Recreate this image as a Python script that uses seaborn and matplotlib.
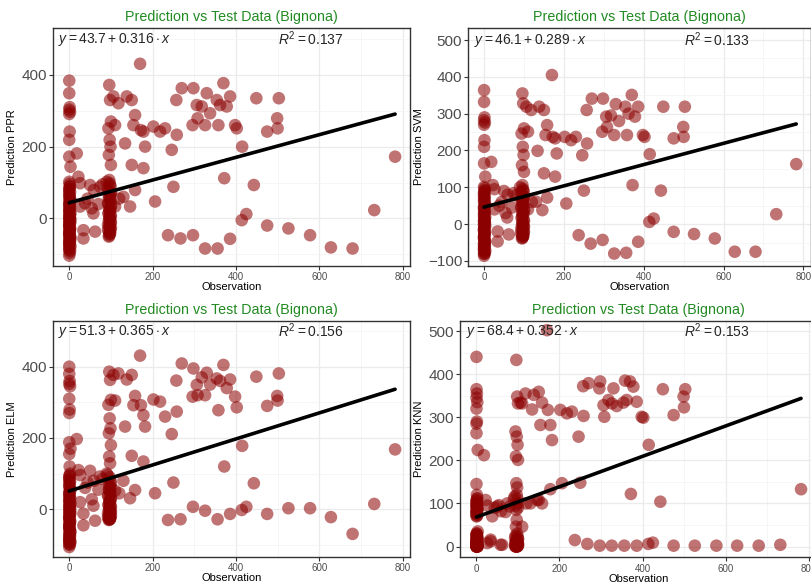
import matplotlib
matplotlib.use("Agg")
import matplotlib.pyplot as plt
from matplotlib.ticker import MultipleLocator
import numpy as np
import pandas as pd
import seaborn as sns

# ---------------- data ----------------
# observations: cluster at 0, cluster near 100, low-x scatter, high-x scatter
obs_zero = [0, 0, 1, 0, 2, 0, 1, 0, 0, 3, 0, 1, 2, 0, 0, 1, 0, 2, 0, 1, 0, 0, 3, 1,
            0, 2, 0, 1, 0, 0, 2, 1, 0, 0, 1, 3, 0, 2, 0, 1, 0, 0, 2, 1, 0]
obs_zero_dense = [1, 0, 2, 0, 1, 3, 0, 0, 2, 1, 0, 1, 0, 2, 0, 3, 1, 0, 0, 2,
                  1, 0, 0, 1, 2, 0, 1, 0, 3, 0]
obs_hundred = [96, 98, 100, 94, 97, 99, 95, 100, 96, 98, 92, 100, 97, 95, 99, 93,
               100, 96, 98, 94, 100, 97, 95, 99, 96, 100, 93, 98, 97, 95]
obs_hundred_dense = [97, 99, 95, 100, 96, 98, 94, 100, 97, 95, 99, 96, 98, 100, 93,
                     97, 99, 95, 98, 96]
obs_low = [18, 22, 26, 50, 59, 74, 90, 38, 54, 58, 34, 34, 62, 26, 44, 70, 80, 110, 120]
obs_high = [237, 267, 297, 326, 356, 386, 414, 425, 475, 526, 578, 628, 680, 732, 782,
            443, 372, 415, 250, 206, 170,
            246, 258, 257, 270, 298, 296, 306, 308, 318, 326, 330, 338, 354, 358, 362,
            370, 378, 386, 398, 402, 449, 475, 499, 500, 503, 202, 218, 230,
            134, 138, 150, 118, 110, 106, 158, 154, 172, 178, 182, 178, 150, 158, 146, 130]

ppr_zero = [384, 349, 310, 303, 297, 291, 242, 219, 172, 144, 102, 96, 90, 82, 71, 63,
            55, 47, 40, 33, 27, 20, 14, 9, 4, -1, -6, -11, -16, -21, -27, -32, -37, -43,
            -48, -53, -58, -63, -69, -74, -79, -85, -91, -97, -104]
svm_zero = [364, 332, 290, 282, 276, 270, 228, 210, 165, 129, 101, 97, 92, 85, 76, 68,
            60, 52, 45, 38, 31, 25, 19, 13, 8, 3, -2, -7, -12, -17, -22, -27, -32, -37,
            -42, -47, -52, -57, -61, -65, -69, -73, -77, -81, -86]
elm_zero = [400, 380, 360, 352, 345, 310, 280, 270, 188, 170, 155, 120, 100, 92, 83, 74,
            64, 55, 47, 39, 31, 24, 17, 10, 4, -2, -8, -14, -20, -26, -32, -38, -44, -50,
            -56, -62, -68, -74, -80, -84, -88, -92, -96, -100, -106]
knn_zero = [440, 365, 355, 345, 335, 320, 290, 285, 263, 224, 145, 120, 112, 106, 100, 96,
            92, 88, 84, 80, 75, 70, 35, 30, 26, 22, 19, 16, 13, 11, 9, 7, 6, 5, 4, 3, 3,
            2, 2, 1, 1, 0, 0, 0, 0]

ppr_zero_dense = [88, 80, 74, 66, 58, 51, 44, 37, 30, 24, 17, 11, 5, 0, -4, -9, -15, -20,
                  -25, -31, -36, -41, -46, -52, -57, -62, -67, -72, -78, -88]
svm_zero_dense = [90, 82, 75, 68, 61, 54, 47, 41, 34, 28, 21, 15, 10, 5, 0, -5, -10, -15,
                  -20, -25, -30, -35, -40, -45, -50, -55, -60, -66, -72, -80]
elm_zero_dense = [95, 86, 78, 70, 62, 54, 46, 39, 32, 25, 19, 13, 7, 1, -5, -11, -17, -23,
                  -29, -35, -41, -47, -53, -59, -65, -71, -77, -83, -90, -97]
knn_zero_dense = [110, 104, 98, 94, 90, 86, 82, 78, 74, 71, 30, 27, 24, 21, 18, 15, 12, 10,
                  8, 6, 5, 4, 3, 2, 2, 1, 1, 0, 0, 0]

ppr_hundred = [372, 330, 270, 251, 219, 200, 177, 149, 107, 93, 84, 72, 66, 57, 49, 41,
               36, 27, 21, 13, 6, 1, -7, -12, -19, -26, -31, -38, -44, -51]
svm_hundred = [355, 328, 260, 246, 210, 188, 160, 142, 106, 92, 86, 75, 68, 60, 52, 44,
               38, 30, 24, 16, 9, 3, -3, -8, -14, -20, -25, -30, -35, -39]
elm_hundred = [386, 363, 307, 293, 255, 227, 213, 180, 148, 129, 96, 73, 64, 55, 46, 38,
               31, 24, 18, 12, 7, 2, -3, -8, -13, -18, -22, -26, -28, -30]
knn_hundred = [433, 348, 332, 267, 255, 236, 209, 201, 147, 137, 116, 100, 62, 46, 23, 20,
               17, 14, 12, 10, 8, 6, 5, 4, 3, 2, 1, 1, 0, 0]

ppr_hundred_dense = [98, 88, 76, 68, 60, 50, 42, 32, 24, 16, 8, 2, -4, -11, -18, -24, -30,
                     -36, -42, -48]
svm_hundred_dense = [96, 88, 78, 70, 62, 54, 46, 36, 28, 20, 12, 5, -1, -7, -13, -19, -24,
                     -29, -33, -37]
elm_hundred_dense = [90, 80, 70, 62, 54, 46, 38, 30, 22, 14, 8, 3, -2, -7, -12, -17, -21,
                     -25, -27, -29]
knn_hundred_dense = [120, 110, 95, 90, 85, 30, 25, 18, 14, 11, 9, 7, 5, 4, 3, 2, 1, 0, 0, 0]

ppr_low = [181, 116, 98, 93, 79, 88, 102, 42, 28, 14, -33, -56, -37, 33, 55, 40, 95, 33, 55]
svm_low = [169, 106, 95, 90, 80, 84, 100, 50, 30, 18, -20, -47, -28, 40, 60, 45, 78, 40, 60]
elm_low = [197, 110, 96, 108, 80, 92, 100, 60, 28, 10, -12, -45, -32, 20, 75, 55, 85, 52, 45]
knn_low = [212, 108, 95, 93, 82, 100, 110, 70, 96, 4, 12, 16, 4, 8, 90, 80, 93, 46, 100]

ppr_high = [-47, -56, -47, -84, -84, -57, -5, 12, -20, -28, -47, -81, -84, 23, 172,
            93, 112, 200, 88, 47, 431,
            191, 233, 330, 363, 363, 260, 316, 279, 312, 260, 349, 293, 330, 260, 316,
            377, 312, 340, 260, 251, 335, 242, 279, 251, 335, 256, 242, 251,
            209, 340, 330, 321, 260, 340, 288, 260, 246, 242, 200, 140, 149, 79, 33, 60]
svm_high = [-30, -53, -43, -80, -78, -48, 6, 15, -21, -27, -39, -75, -75, 27, 163,
            91, 106, 190, 91, 56, 405,
            187, 219, 310, 341, 341, 251, 292, 264, 295, 242, 326, 280, 319, 242, 300,
            351, 292, 319, 242, 237, 319, 233, 264, 237, 319, 237, 228, 237,
            199, 319, 310, 310, 251, 319, 269, 242, 237, 233, 192, 129, 138, 72, 38, 61]
elm_high = [-30, -28, 7, -4, -28, -13, -2, 7, -13, 3, 3, -22, -69, 15, 168,
            73, 120, 178, 75, 45, 431,
            211, 274, 361, 409, 395, 316, 349, 320, 370, 320, 383, 350, 367, 278, 360,
            405, 340, 364, 316, 286, 372, 290, 318, 305, 381, 308, 302, 260,
            232, 364, 377, 381, 305, 377, 318, 292, 292, 264, 232, 134, 150, 54, 31, 80]
knn_high = [15, 6, 2, 2, 2, 2, 6, 9, 2, 2, 2, 2, 2, 4, 133,
            104, 122, 236, 148, 147, 502,
            255, 303, 372, 379, 383, 367, 328, 301, 340, 332, 367, 326, 334, 385, 340,
            383, 371, 336, 301, 299, 365, 305, 348, 323, 365, 317, 309, 313,
            318, 352, 359, 355, 332, 334, 334, 282, 317, 282, 247, 133, 108, 100, 108, 100]

observation = obs_zero + obs_zero_dense + obs_hundred + obs_hundred_dense + obs_low + obs_high
predictions = {
    "PPR": ppr_zero + ppr_zero_dense + ppr_hundred + ppr_hundred_dense + ppr_low + ppr_high,
    "SVM": svm_zero + svm_zero_dense + svm_hundred + svm_hundred_dense + svm_low + svm_high,
    "ELM": elm_zero + elm_zero_dense + elm_hundred + elm_hundred_dense + elm_low + elm_high,
    "KNN": knn_zero + knn_zero_dense + knn_hundred + knn_hundred_dense + knn_low + knn_high,
}
models = ["PPR", "SVM", "ELM", "KNN"]
intercepts = [43.7, 46.1, 51.3, 68.4]
slopes = [0.316, 0.289, 0.365, 0.352]
r_squared = ["0.137", "0.133", "0.156", "0.153"]
title_text = "Prediction vs Test Data (Bignona)"

# ---------------- style ----------------
sns.set_theme(style="white")
plt.rcParams["font.family"] = ["Liberation Sans", "DejaVu Sans"]
plt.rcParams["mathtext.fontset"] = "custom"
plt.rcParams["mathtext.rm"] = "Liberation Sans"
plt.rcParams["mathtext.it"] = "Liberation Sans:italic"
plt.rcParams["mathtext.bf"] = "Liberation Sans:bold"

W, H = 812, 587
fig = plt.figure(figsize=(W / 100, H / 100), dpi=100)
fig.patch.set_facecolor("white")

# pixel boxes: left, right, top, bottom
boxes = [
    (53, 410.5, 28.3, 265.7),
    (468.5, 811, 28.3, 265.7),
    (53, 410.5, 320.7, 556.7),
    (460.3, 816.4, 320.7, 557.3),
]
ylims = [(-132, 530), (-113, 532), (-133, 529), (-25, 524)]
ymajor = [200, 100, 200, 100]
yminor = [100, 50, 100, 50]

for i, m in enumerate(models):
    l, r, t, b = boxes[i]
    ax = fig.add_axes([l / W, 1 - b / H, (r - l) / W, (b - t) / H])
    df = pd.DataFrame({"Observation": observation, "Prediction": predictions[m]})
    sns.scatterplot(data=df, x="Observation", y="Prediction", ax=ax,
                    color="#8B0000", alpha=0.55, s=82, edgecolor="none", zorder=3)
    xs = np.array([min(observation), max(observation)])
    line_df = pd.DataFrame({"x": xs, "y": intercepts[i] + slopes[i] * xs})
    sns.lineplot(data=line_df, x="x", y="y", ax=ax, color="black", lw=2.6, zorder=4)

    ax.set_xlim(-39, 819)
    ax.set_ylim(*ylims[i])
    ax.xaxis.set_major_locator(MultipleLocator(200))
    ax.xaxis.set_minor_locator(MultipleLocator(100))
    ax.yaxis.set_major_locator(MultipleLocator(ymajor[i]))
    ax.yaxis.set_minor_locator(MultipleLocator(yminor[i]))
    ax.grid(True, which="major", color="#EBEBEB", lw=0.9, zorder=0)
    ax.grid(True, which="minor", color="#F3F3F3", lw=0.5, zorder=0)
    ax.set_axisbelow(True)
    for sp in ax.spines.values():
        sp.set_color("#333333")
        sp.set_linewidth(1.0)
    ax.tick_params(axis="y", which="major", labelsize=11, labelcolor="#4D4D4D",
                   length=3, width=0.8, color="#333333", left=True, pad=1.5)
    ax.tick_params(axis="x", which="major", labelsize=7, labelcolor="#4D4D4D",
                   length=3, width=0.8, color="#333333", bottom=True, pad=1.5)
    ax.tick_params(which="minor", length=0)
    ax.set_xlabel("Observation", fontsize=8, color="black", labelpad=0)
    ax.set_ylabel(f"Prediction {m}", fontsize=8, color="black", labelpad=3)
    ax.set_title(title_text, color="#228B22", fontsize=10.3, pad=5)

    ax.text(-26, 500, rf"$y = {intercepts[i]} + {slopes[i]} \cdot x$",
            fontsize=10, va="center", ha="left", zorder=5)
    ax.text(500, 500, rf"$R^2 = {r_squared[i]}$",
            fontsize=10, va="center", ha="left", zorder=5)

fig.savefig("out.png", dpi=100, facecolor="white")
